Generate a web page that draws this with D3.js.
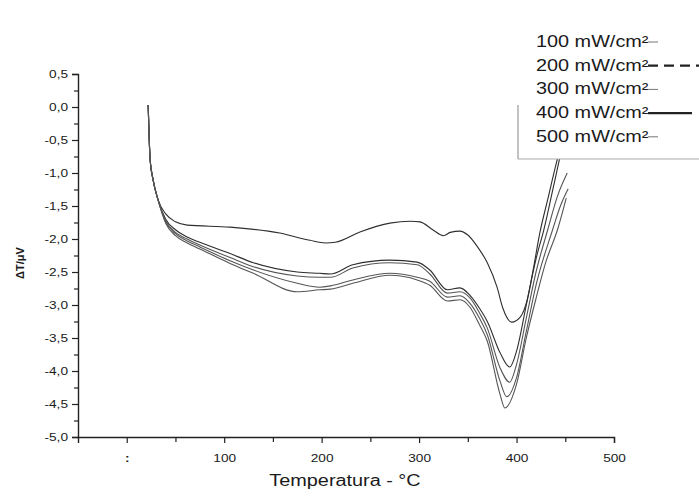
<!DOCTYPE html>
<html>
<head>
<meta charset="utf-8">
<script src="https://d3js.org/d3.v7.min.js"></script>
<style>
  body { margin: 0; background: #fff; }
  text { font-family: "Liberation Sans", Arial, sans-serif; fill: #1a1a1a; }
</style>
</head>
<body>
<svg id="chart" width="699" height="496"></svg>
<script>
// series: [temperature °C, signal]
var legendLabels = ["100 mW/cm²", "200 mW/cm²", "300 mW/cm²", "400 mW/cm²", "500 mW/cm²"];
var yTicks = [0.5, 0, -0.5, -1, -1.5, -2, -2.5, -3, -3.5, -4, -4.5, -5];
var xTicks = [0, 100, 200, 300, 400, 500];

var start = [[22, 0.03], [23, -0.45], [24, -0.8], [27, -1.1], [32, -1.4]];

var serie100 = start.concat([[40, -1.62], [50, -1.74], [62, -1.79], [106, -1.82], [157, -1.91], [188, -2.02],
  [204, -2.06], [214, -2.05], [240, -1.89], [270, -1.76], [291, -1.73], [301, -1.74], [314, -1.86],
  [325, -1.95], [332, -1.9], [342, -1.88], [350, -1.94], [360, -2.12], [370, -2.36], [380, -2.73],
  [386, -3.05], [395, -3.26], [404, -3.18], [411, -2.92], [417, -2.47], [424, -1.9], [432, -1.4],
  [440, -0.9], [447, -0.5], [452, -0.25]]);

var serie200 = start.concat([[40, -1.7], [50, -1.86], [62, -1.97], [75, -2.05], [106, -2.22], [130, -2.36],
  [175, -2.5], [198, -2.52], [209, -2.53], [232, -2.39], [270, -2.32], [298, -2.35], [311, -2.47],
  [329, -2.77], [342, -2.74], [352, -2.85], [362, -3.05], [370, -3.25], [383, -3.72], [393, -3.94],
  [400, -3.7], [410, -3.0], [420, -2.3], [428, -1.86], [438, -1.2], [447, -0.6], [452, -0.3]]);

var serie300 = start.concat([[40, -1.72], [50, -1.9], [62, -2.0], [75, -2.09], [106, -2.28], [130, -2.42],
  [175, -2.56], [198, -2.58], [209, -2.58], [232, -2.44], [270, -2.36], [298, -2.39], [311, -2.53],
  [329, -2.82], [342, -2.8], [352, -2.89], [362, -3.12], [370, -3.35], [383, -3.95], [393, -4.17],
  [400, -3.9], [410, -3.2], [420, -2.5], [432, -1.86], [442, -1.35], [452, -1.0]]);

var serie400 = start.concat([[40, -1.74], [50, -1.92], [62, -2.03], [75, -2.12], [106, -2.33], [130, -2.47],
  [175, -2.67], [198, -2.73], [209, -2.71], [232, -2.62], [270, -2.52], [298, -2.58], [311, -2.64],
  [329, -2.88], [342, -2.86], [352, -2.97], [362, -3.2], [370, -3.45], [383, -4.15], [390, -4.39],
  [400, -4.1], [410, -3.4], [420, -2.7], [437, -1.86], [445, -1.5], [453, -1.24]]);

var serie500 = start.concat([[40, -1.76], [50, -1.95], [62, -2.06], [75, -2.15], [106, -2.37], [130, -2.52],
  [175, -2.8], [198, -2.77], [209, -2.76], [232, -2.67], [270, -2.55], [298, -2.62], [311, -2.7],
  [329, -2.94], [342, -2.92], [352, -3.03], [362, -3.3], [370, -3.55], [383, -4.35], [388, -4.56],
  [400, -4.2], [410, -3.5], [420, -2.9], [430, -2.35], [442, -1.86], [451, -1.38]]);

var series = [serie100, serie200, serie300, serie400, serie500];

var svg = d3.select("#chart");

var x = d3.scaleLinear().domain([-50, 500]).range([78, 614]);
var y = d3.scaleLinear().domain([-5, 0.5]).range([437, 74]);

var fmt = function (d) { return d3.format(".1f")(d).replace(".", ",").replace("−", "-"); };

// minor ticks first
svg.append("g")
  .attr("transform", "translate(78,0)")
  .call(d3.axisLeft(y).tickValues(d3.range(-4.75, 0.5, 0.5)).tickSize(4).tickFormat(""))
  .call(function (g) { g.select(".domain").remove(); });
svg.append("g")
  .attr("transform", "translate(0,437)")
  .call(d3.axisBottom(x).tickValues(d3.range(50, 500, 100)).tickSize(5).tickFormat(""))
  .call(function (g) { g.select(".domain").remove(); });

var yAxis = svg.append("g")
  .attr("transform", "translate(78,0)")
  .call(d3.axisLeft(y).tickValues(yTicks).tickSize(6).tickPadding(4).tickFormat(fmt));

var xAxis = svg.append("g")
  .attr("transform", "translate(0,437)")
  .call(d3.axisBottom(x).tickValues(xTicks).tickSize(6).tickPadding(11)
    .tickFormat(function (d) { return d === 0 ? ":" : d; }));

svg.selectAll(".tick line").attr("stroke", "#222").attr("stroke-width", 1.2);
svg.selectAll(".domain").attr("stroke", "#222").attr("stroke-width", 1.4);
yAxis.selectAll("text").attr("font-size", 11).attr("font-family", "Liberation Sans");
xAxis.selectAll("text").attr("font-size", 11).attr("font-family", "Liberation Sans");
xAxis.select(".tick text").attr("font-weight", "bold");

// curves
var line = d3.line()
  .x(function (d) { return x(d[0]); })
  .y(function (d) { return y(d[1]); })
  .curve(d3.curveMonotoneX);

svg.append("g").selectAll("path")
  .data(series)
  .enter()
  .append("path")
  .attr("d", line)
  .attr("fill", "none")
  .attr("stroke", function (d, i) { return i == 0 || i == 1 ? "#2e2e2e" : "#555"; })
  .attr("stroke-width", 1.1);

// legend
var legend = svg.append("g");
legend.append("rect")
  .attr("x", 518).attr("y", 0).attr("width", 181).attr("height", 159)
  .attr("fill", "#fff");
legend.append("line").attr("x1", 518).attr("x2", 518).attr("y1", 105).attr("y2", 159)
  .attr("stroke", "#999").attr("stroke-width", 1.2);
legend.append("line").attr("x1", 518).attr("x2", 699).attr("y1", 159).attr("y2", 159)
  .attr("stroke", "#aaa").attr("stroke-width", 1.2);

var rows = legend.selectAll(".row")
  .data(legendLabels)
  .enter()
  .append("g")
  .attr("transform", function (d, i) { return "translate(536," + (47 + i * 23.7) + ")"; });

rows.append("text")
  .attr("class", "stretch")
  .attr("font-size", 16)
  .text(function (d) { return d; });

var sampleStyle = [
  { x2: 122, w: 1, dash: null, c: "#777" },
  { x2: 163, w: 2.2, dash: "10,6", c: "#222" },
  { x2: 122, w: 1, dash: null, c: "#777" },
  { x2: 156, w: 2.2, dash: null, c: "#222" },
  { x2: 122, w: 1, dash: null, c: "#777" }
];
rows.append("line")
  .attr("x1", 112)
  .attr("x2", function (d, i) { return sampleStyle[i].x2; })
  .attr("y1", -5).attr("y2", -5)
  .attr("stroke", function (d, i) { return sampleStyle[i].c; })
  .attr("stroke-width", function (d, i) { return sampleStyle[i].w; })
  .attr("stroke-dasharray", function (d, i) { return sampleStyle[i].dash; });

// axis titles
svg.append("text")
  .attr("class", "stretch")
  .attr("x", 345).attr("y", 486)
  .attr("text-anchor", "middle")
  .attr("font-size", 16)
  .text("Temperatura - °C");

svg.append("text")
  .attr("transform", "translate(24,263) rotate(-90)")
  .attr("text-anchor", "middle")
  .attr("font-size", 11)
  .attr("font-weight", "bold")
  .text("ΔT/μV");

// the scanned text is wider than the font, stretch it a little
svg.selectAll(".tick text, text.stretch").each(function () {
  var len = this.getComputedTextLength();
  d3.select(this).attr("textLength", len * 1.24).attr("lengthAdjust", "spacingAndGlyphs");
});
</script>
</body>
</html>
